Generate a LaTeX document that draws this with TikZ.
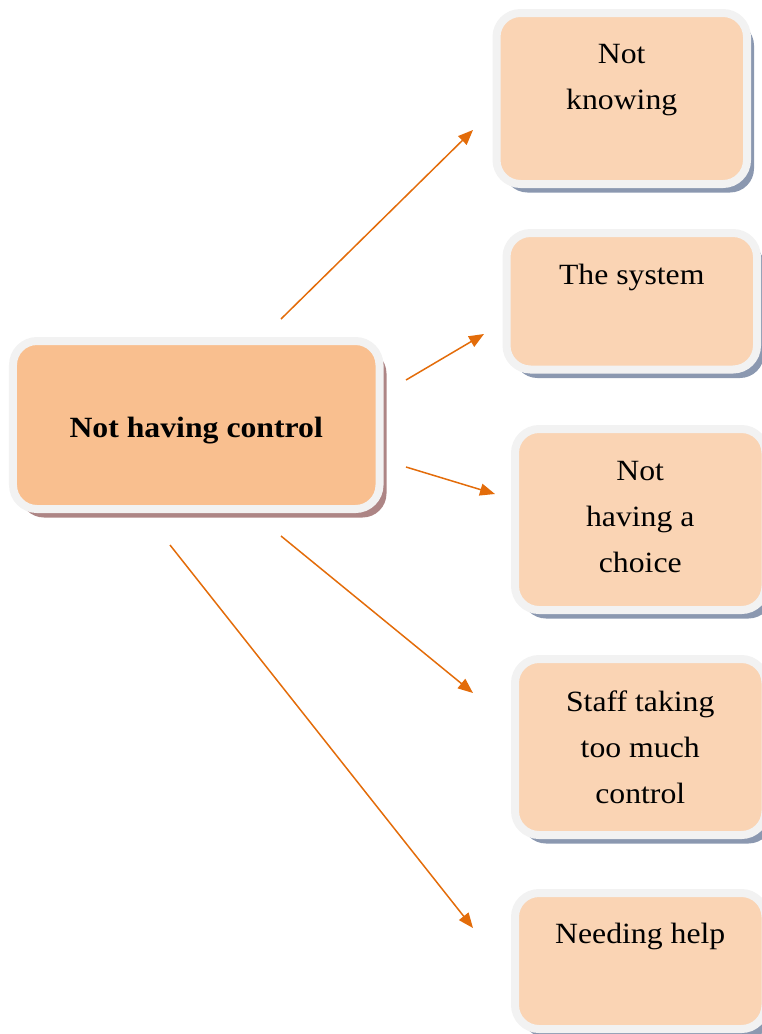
\documentclass[tikz,border=0pt]{standalone}
\usepackage{fontspec}
\setmainfont{Liberation Serif}[FakeStretch=1.08]
\usetikzlibrary{positioning,arrows.meta,shadows}
\definecolor{mainfill}{HTML}{F9BF8F}
\definecolor{subfill}{HTML}{FAD4B4}
\definecolor{rim}{HTML}{F2F2F2}
\definecolor{linkcol}{HTML}{E36C0A}
\definecolor{redshade}{HTML}{AD8585}
\definecolor{blueshade}{HTML}{8B98B0}
\begin{document}
\begin{tikzpicture}[x=1bp,y=-1bp,
	theme/.style={rounded corners=24bp,draw=rim,line width=8bp,inner sep=0pt},
	mainbox/.style={theme,fill=mainfill,minimum width=366.5bp,minimum height=168bp,
		drop shadow={shadow xshift=7bp,shadow yshift=-8.5bp,fill=redshade,opacity=1}},
	subbox/.style={theme,fill=subfill,minimum width=250.5bp,
		drop shadow={shadow xshift=7bp,shadow yshift=-8.5bp,fill=blueshade,opacity=1}},
	boxtext/.style={align=center,inner sep=0pt,font=\fontsize{29.5}{46}\selectfont},
	link/.style={-{Triangle[length=15bp,width=12bp]},linkcol,line width=1.5bp}]
	\useasboundingbox (0,0) rectangle (762,1034);

% boxes
	\node[mainbox] (main) at (196.25,425) {};
	\node[subbox,minimum height=171bp] (know) at (621.75,98.5) {};
	\node[subbox,minimum height=136.5bp] (system) at (631.75,301.25) {};
	\node[subbox,minimum height=181bp] (choice) at (640.25,519.5) {};
	\node[subbox,minimum height=176bp] (staff) at (640.25,747) {};
	\node[subbox,minimum height=136bp] (help) at (640.25,961) {};

% texts
	\node[boxtext,font=\fontsize{29.5}{46}\selectfont\bfseries,below=80bp of main.north] (tmain) {Not having control};
	\node[boxtext,below=35bp of know.north] (tknow) {Not\\knowing};
	\node[boxtext,below=34.5bp of system.north] (tsystem) {The system};
	\node[boxtext,below=36bp of choice.north] (tchoice) {Not\\having a\\choice};
	\node[boxtext,below=36bp of staff.north] (tstaff) {Staff taking\\too much\\control};
	\node[boxtext,below=34bp of help.north] (thelp) {Needing help};

	%Links
	\coordinate (s1) at (281,319);
	\coordinate (e1) at (473,130);
	\coordinate (s2) at (406,380);
	\coordinate (e2) at (484,334);
	\coordinate (s3) at (406,467);
	\coordinate (e3) at (495,494);
	\coordinate (s4) at (281,536);
	\coordinate (e4) at (473,693);
	\coordinate (s5) at (170,545);
	\coordinate (e5) at (473,928);
	\draw[link] (s1) -- (e1);
	\draw[link] (s2) -- (e2);
	\draw[link] (s3) -- (e3);
	\draw[link] (s4) -- (e4);
	\draw[link] (s5) -- (e5);
\end{tikzpicture}
\end{document}
